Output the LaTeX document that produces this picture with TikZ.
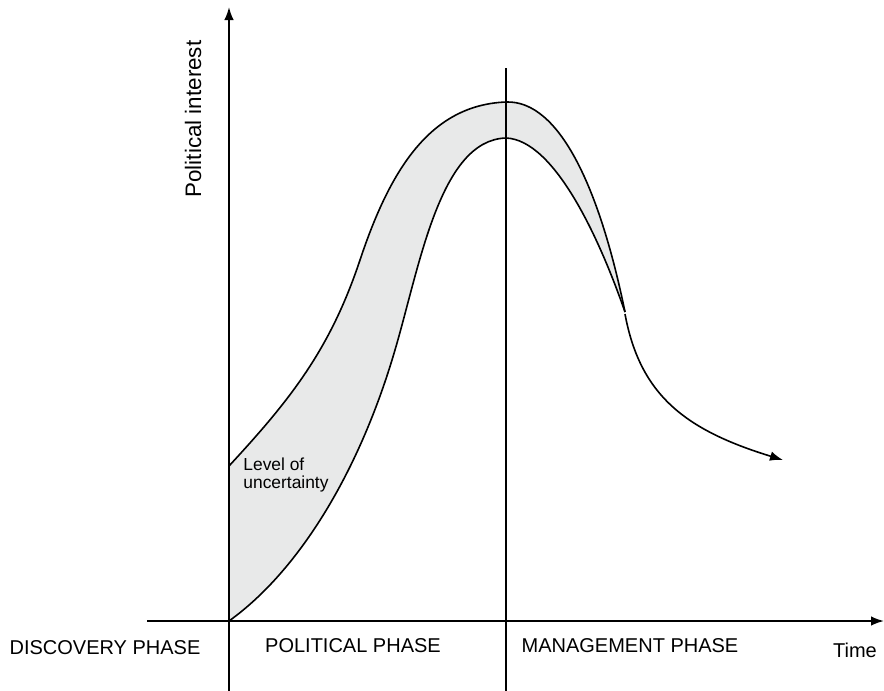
\documentclass[tikz,border=0pt]{standalone}
\usepackage{fontspec}
\setmainfont{Liberation Sans}
\usetikzlibrary{arrows.meta}
\definecolor{bandgray}{RGB}{232,233,233}
\tikzset{
  axisline/.style={line width=0.9pt, draw=black},
  tipped/.style={-{Latex[length=6.5pt,width=4.8pt]}},
  curveline/.style={line width=0.8pt, draw=black},
  phaselabel/.style={font=\fontsize{10}{12}\selectfont, inner sep=0pt},
}
\begin{document}
\begin{tikzpicture}[x=0.5pt, y=-0.5pt]
\useasboundingbox (0,0) rectangle (884,691);

% axes and phase divider
\coordinate (origin) at (229,621);
\coordinate (ybot) at (229,691);
\coordinate (ytop) at (229,7);
\coordinate (xleft) at (147,621);
\coordinate (xright) at (884,621);
\coordinate (divtop) at (506,68);
\coordinate (divbot) at (506,691);

% key points of the band
\coordinate (ustart) at (229,466);
\coordinate (umid) at (360,260);
\coordinate (upeak) at (506,102);
\coordinate (meet) at (625,312);
\coordinate (lmid) at (395,350);
\coordinate (lpeak) at (506,138);
\coordinate (tailstart) at (625,314);
\coordinate (tailend) at (783,460);

% uncertainty band between the two curves
\fill[bandgray] (origin) -- (ustart)
  .. controls (290,400) and (330,350) .. (umid)
  .. controls (390,170) and (430,105) .. (upeak)
  .. controls (560,100) and (600,190) .. (meet)
  .. controls (600,240) and (555,140) .. (lpeak)
  .. controls (440,140) and (420,265) .. (lmid)
  .. controls (360,470) and (300,570) .. (origin) -- cycle;

\draw[axisline] (ybot) -- (origin);
\draw[axisline, tipped] (origin) -- (ytop);
\draw[axisline, tipped] (xleft) -- (xright);
\draw[axisline] (divtop) -- (divbot);

% upper bound of the band
\draw[curveline] (ustart)
  .. controls (290,400) and (330,350) .. (umid)
  .. controls (390,170) and (430,105) .. (upeak)
  .. controls (560,100) and (600,190) .. (meet);
% lower bound of the band
\draw[curveline] (origin)
  .. controls (300,570) and (360,470) .. (lmid)
  .. controls (420,265) and (440,140) .. (lpeak)
  .. controls (555,140) and (600,240) .. (meet);

% tail of the curve after the band closes
\draw[curveline, tipped] (tailstart) .. controls (640,395) and (685,430) .. (tailend);

% labels
\node[phaselabel, rotate=90] (ylabel) at (193,119) {\fontsize{11.2}{13}\selectfont Political interest};
\node[phaselabel] (discovery) at (105,648) {DISCOVERY PHASE};
\node[phaselabel] (political) at (353,646) {POLITICAL PHASE};
\node[phaselabel] (management) at (630,646) {MANAGEMENT PHASE};
\node[phaselabel] (time) at (855,650) {Time};
\node[inner sep=0pt, anchor=north west, align=left, font=\fontsize{8.7}{9}\selectfont] (uncert) at (243,457) {Level of\\uncertainty};
\end{tikzpicture}
\end{document}
